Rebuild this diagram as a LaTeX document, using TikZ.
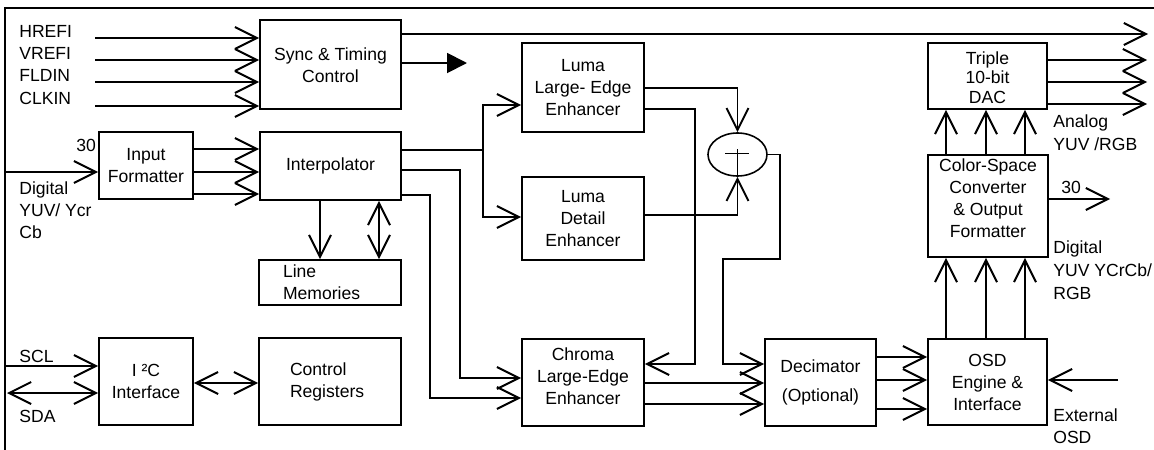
\documentclass[tikz,border=0pt]{standalone}
\usepackage{fontspec}
\setmainfont{Liberation Sans}
\usetikzlibrary{arrows.meta,shapes.geometric}
\newcommand\fs{\fontsize{10}{12.5}\selectfont}
\newcommand\shifted[2]{\raisebox{#1}[\height][\depth]{\begin{tabular}{@{}c@{}}#2\end{tabular}}}
\tikzset{
  ln/.style={line width=1.1pt},
  box/.style={draw, line width=1.1pt, inner sep=0pt, align=center, font=\fs},
  arr/.style={ln, -{Straight Barb[length=4.4mm,width=4.4mm]}},
  darr/.style={ln, {Straight Barb[length=4.4mm,width=4.4mm]}-{Straight Barb[length=4.4mm,width=4.4mm]}},
  lbl/.style={inner sep=0pt, font=\fs, anchor=base west},
}
\newcommand\blk[6]{\node[box, minimum width={(#4-#2)*0.02cm}, minimum height={(#5-#3)*0.02cm}] (#1) at ({(#2+#4)/2},{(#3+#5)/2}) {#6};}
\begin{document}
\begin{tikzpicture}[x=0.02cm,y=-0.02cm]
\useasboundingbox (0,0) rectangle (1154,450);
% frame
\draw[ln] (1154,8) -- (5,8) -- (5,450);
% blocks
\blk{sync}{260}{20}{401}{109}{\shifted{-0.06cm}{Sync \& Timing\\Control}}
\blk{inf}{99}{132}{193}{199}{Input\\Formatter}
\blk{interp}{260}{132}{401}{200}{Interpolator}
\node[box, align=left, minimum height={45*0.02cm}, text width=1.88cm, inner xsep=0.48cm] (linemem) at (330,282.5) {Line\\Memories};
\blk{lle}{522}{43}{644}{132}{Luma\\Large- Edge\\Enhancer}
\blk{lde}{522}{177}{644}{260}{Luma\\Detail\\Enhancer}
\blk{chroma}{522}{339}{644}{426}{\shifted{0.08cm}{Chroma\\Large-Edge\\Enhancer}}
\blk{dec}{765}{339}{876}{426}{Decimator\\[4.5pt](Optional)}
\blk{osd}{928}{339}{1047}{425}{OSD\\Engine \&\\Interface}
\blk{csc}{928}{155}{1048}{257}{\shifted{0.11cm}{Color-Space\\Converter\\\& Output\\Formatter}}
\blk{dac}{928}{43}{1047}{109}{\shifted{-0.07cm}{Triple\\[-1.2pt]10-bit\\[-1.2pt]DAC}}
\blk{i2c}{99}{338}{193}{425}{I ²C\\Interface}
\node[box, align=left, minimum height={87*0.02cm}, text width=1.6cm, inner xsep=0.62cm] (ctrl) at (330,381.5) {Control\\Registers};
\node[draw, ellipse, line width=0.9pt, inner sep=0pt, minimum width={59*0.02cm}, minimum height={43*0.02cm}] (sum) at (737.5,154.5) {};
\draw[line width=1.1pt] (725,153.5) -- (749,153.5) (737.5,149) -- (sum.south);
% sync inputs
\foreach \n/\t/\y/\b in {h/HREFI/38/37, v/VREFI/60/59, f/FLDIN/82/81, c/CLKIN/106/104} {
  \node[lbl] (\n lab) at (19,\b) {\t};
  \coordinate (\n in) at (95,\y);
  \draw[arr] (\n in) -- (sync.west |- 0,\y);
}
% sync outputs
\coordinate (topout) at (1148,34);
\draw[arr] (sync.east |- 0,34) -- (topout);
\coordinate (syncout) at (467,63);
\draw[ln, -{Triangle[length=4mm,width=4mm]}] (sync.east |- 0,63) -- (syncout);
% digital input
\node[lbl] (in30) at (76,151) {30};
\node[lbl] (dig1) at (19,194) {Digital};
\node[lbl] (dig2) at (19,216) {YUV/ Ycr};
\node[lbl] (dig3) at (19,238) {Cb};
\coordinate (digin) at (5,172);
\draw[arr] (digin) -- (inf.west |- 0,172);
\foreach \y in {149,172,194} \draw[arr] (inf.east |- 0,\y) -- (interp.west |- 0,\y);
% interpolator outputs
\coordinate (j1) at (483,150);
\draw[ln] (interp.east |- 0,150) -- (j1);
\draw[arr] (j1) |- (lle.west |- 0,105);
\draw[arr] (j1) |- (lde.west |- 0,217);
\draw[arr] (interp.east |- 0,170) -| (460,378) -- (chroma.west |- 0,378);
\draw[arr] (interp.east |- 0,195) -| (430,398) -- (chroma.west |- 0,398);
\draw[arr] (interp.south -| 320,0) -- (linemem.north -| 320,0);
\draw[darr] (interp.south -| 379,0) -- (linemem.north -| 379,0);
% luma
\draw[arr] (lle.east |- 0,88) -| (sum.north);
\draw[arr] (lde.east |- 0,215) -| (sum.south);
\draw[arr] (lle.east |- 0,109) -| (695,364) -- (chroma.east |- 0,364);
\draw[arr] (sum.east) -| (780,259) -| (723,364) -- (dec.west |- 0,364);
% chroma to decimator
\foreach \y in {383,404} \draw[arr] (chroma.east |- 0,\y) -- (dec.west |- 0,\y);
% decimator to osd
\foreach \y in {357,380,409} \draw[arr] (dec.east |- 0,\y) -- (osd.west |- 0,\y);
% vertical
\foreach \x in {946,986,1025} {
  \draw[arr] (osd.north -| \x,0) -- (csc.south -| \x,0);
  \draw[arr] (csc.north -| \x,0) -- (dac.south -| \x,0);
}
% dac outputs
\foreach \y in {60,82,104} {
  \coordinate (dout\y) at (1147,\y);
  \draw[arr] (dac.east |- 0,\y) -- (dout\y);
}
\node[lbl] (an1) at (1053,127) {Analog};
\node[lbl] (an2) at (1053,150) {YUV /RGB};
% csc output
\coordinate (cscout) at (1110,199);
\draw[arr] (csc.east |- 0,199) -- (cscout);
\node[lbl] (out30) at (1061,193) {30};
\node[lbl] (dd1) at (1053,253) {Digital};
\node[lbl] (dd2) at (1053,276) {YUV YCrCb/};
\node[lbl] (dd3) at (1053,299) {RGB};
% external osd
\coordinate (extin) at (1118,380);
\draw[arr] (extin) -- (osd.east |- 0,380);
\node[lbl] (ex1) at (1053,421) {External};
\node[lbl] (ex2) at (1053,443) {OSD};
% i2c
\node[lbl] (scl) at (19,362) {SCL};
\node[lbl] (sda) at (19,422) {SDA};
\coordinate (sclin) at (5,366);
\coordinate (sdain) at (7,393);
\draw[arr] (sclin) -- (i2c.west |- 0,366);
\draw[darr] (sdain) -- (i2c.west |- 0,393);
\draw[darr] (i2c.east |- 0,383) -- (ctrl.west |- 0,383);
\end{tikzpicture}
\end{document}
